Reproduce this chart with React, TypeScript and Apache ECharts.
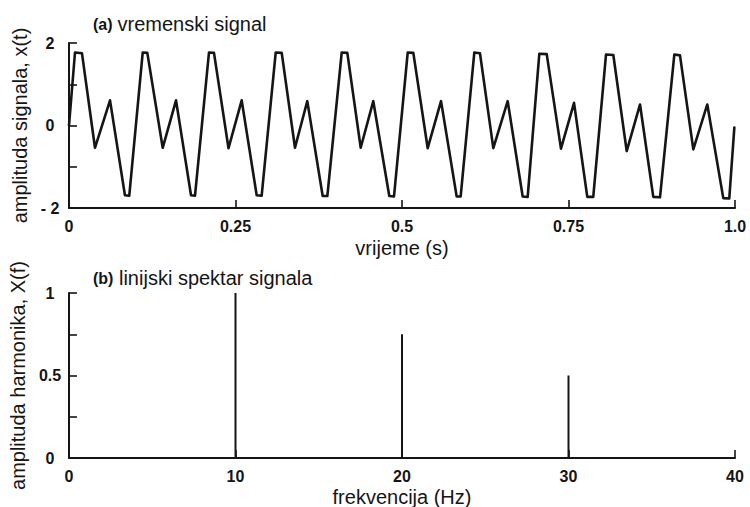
import React, { useEffect, useRef } from "react";
import * as echarts from "echarts";

// (a) time signal: vertices [time (s), amplitude]
const timeSec: number[] = [
  0,
  0.009, 0.0195, 0.039, 0.0616, 0.084, 0.0905,
  0.1107, 0.1176, 0.1407, 0.1607, 0.1832, 0.1892,
  0.2102, 0.2177, 0.2395, 0.2593, 0.2818, 0.2893,
  0.3104, 0.3194, 0.3393, 0.3578, 0.3809, 0.3879,
  0.4095, 0.4179, 0.438, 0.4569, 0.4809, 0.488,
  0.5086, 0.517, 0.5386, 0.5586, 0.5821, 0.5881,
  0.6086, 0.6171, 0.6371, 0.6587, 0.6812, 0.6887,
  0.7062, 0.7173, 0.7387, 0.7583, 0.7782, 0.7872,
  0.8063, 0.8173, 0.8374, 0.8574, 0.8773, 0.8874,
  0.9089, 0.9174, 0.9374, 0.9584, 0.9824, 0.9914,
  0.999,
];
const amplitude: number[] = [
  0,
  1.77, 1.75, -0.54, 0.61, -1.69, -1.7,
  1.77, 1.76, -0.54, 0.61, -1.69, -1.7,
  1.77, 1.76, -0.55, 0.61, -1.69, -1.7,
  1.77, 1.76, -0.54, 0.59, -1.71, -1.71,
  1.77, 1.76, -0.54, 0.59, -1.71, -1.72,
  1.77, 1.76, -0.55, 0.59, -1.72, -1.72,
  1.77, 1.75, -0.55, 0.59, -1.72, -1.73,
  1.74, 1.73, -0.56, 0.55, -1.73, -1.73,
  1.72, 1.71, -0.62, 0.51, -1.73, -1.74,
  1.72, 1.7, -0.58, 0.51, -1.76, -1.77,
  -0.05,
];

// (b) line spectrum
const harmonicFreqHz: number[] = [10, 20, 30];
const harmonicAmp: number[] = [1, 0.75, 0.5];

// tick labels
const topYLabels: Record<string, string> = { "2": "2", "0": "0", "-2": "- 2" };
const topXLabels: Record<string, string> = { "0": "0", "0.25": "0.25", "0.5": "0.5", "0.75": "0.75", "1": "1.0" };
const botYLabels: Record<string, string> = { "0": "0", "0.5": "0.5", "1": "1" };

const FONT = "'Liberation Sans', Arial, Helvetica, sans-serif";
const INK = "#151515";

export default function App() {
  const ref = useRef<HTMLDivElement>(null);
  useEffect(() => {
    if (!ref.current) return;
    const chart = echarts.init(ref.current, undefined, { renderer: "svg" });
    const axisLine = { show: true, onZero: false, lineStyle: { color: INK, width: 2 } };
    const axisTick = { show: true, inside: true, length: 8, lineStyle: { color: INK, width: 1.6 } };
    const tickLabel = { color: INK, fontFamily: FONT, fontSize: 16, fontWeight: "bold" as const };
    const nameStyle = { color: INK, fontFamily: FONT, fontSize: 20, fontWeight: "normal" as const };
    const titleRich = {
      a: { fontFamily: FONT, fontSize: 16, fontWeight: "bold", color: INK },
      t: { fontFamily: FONT, fontSize: 20, fontWeight: "normal", color: INK },
    };

    chart.setOption({
      animation: false,
      backgroundColor: "#ffffff",
      title: [
        {
          text: "{a|(a)} {t|vremenski signal}",
          left: 88,
          top: 9,
          textStyle: { fontWeight: "normal", rich: titleRich },
        },
        {
          text: "{a|(b)}{t| linijski spektar signala}",
          left: 88,
          top: 263,
          textStyle: { fontWeight: "normal", rich: titleRich },
        },
      ],
      grid: [
        { left: 69, right: 15, top: 43, height: 165, containLabel: false, outerBoundsMode: "none" },
        { left: 69, right: 15, top: 293, height: 165, containLabel: false, outerBoundsMode: "none" },
      ],
      xAxis: [
        {
          gridIndex: 0,
          type: "value",
          min: 0,
          max: 1,
          interval: 0.25,
          name: "vrijeme (s)",
          nameLocation: "middle",
          nameGap: 30,
          nameTextStyle: nameStyle,
          axisLine,
          axisTick,
          splitLine: { show: false },
          axisLabel: {
            ...tickLabel,
            margin: 10,
            formatter: (v: number) => topXLabels[String(v)] ?? "",
          },
        },
        {
          gridIndex: 1,
          type: "value",
          min: 0,
          max: 40,
          interval: 10,
          name: "frekvencija (Hz)",
          nameLocation: "middle",
          nameGap: 29,
          nameTextStyle: nameStyle,
          axisLine,
          axisTick,
          splitLine: { show: false },
          axisLabel: { ...tickLabel, margin: 10 },
        },
      ],
      yAxis: [
        {
          gridIndex: 0,
          type: "value",
          min: -2,
          max: 2,
          interval: 1,
          name: "amplituda signala, x(t)",
          nameLocation: "middle",
          nameGap: 33,
          nameTextStyle: nameStyle,
          axisLine,
          axisTick,
          splitLine: { show: false },
          axisLabel: {
            ...tickLabel,
            align: "center",
            margin: 19,
            formatter: (v: number) => topYLabels[String(v)] ?? "",
          },
        },
        {
          gridIndex: 1,
          type: "value",
          min: 0,
          max: 1,
          interval: 0.25,
          name: "amplituda harmonika, X(f)",
          nameLocation: "middle",
          nameGap: 30,
          nameTextStyle: nameStyle,
          axisLine,
          axisTick,
          splitLine: { show: false },
          axisLabel: {
            ...tickLabel,
            align: "center",
            margin: 19,
            formatter: (v: number) => botYLabels[String(v)] ?? "",
          },
        },
      ],
      series: [
        {
          type: "line",
          xAxisIndex: 0,
          yAxisIndex: 0,
          data: timeSec.map((t, i) => [t, amplitude[i]]),
          showSymbol: false,
          symbol: "none",
          lineStyle: { color: INK, width: 2.6, join: "round", cap: "round" },
          clip: false,
        },
        {
          type: "bar",
          xAxisIndex: 1,
          yAxisIndex: 1,
          data: harmonicFreqHz.map((f, i) => [f, harmonicAmp[i]]),
          barWidth: 2,
          itemStyle: { color: INK },
        },
      ],
    });
    return () => chart.dispose();
  }, []);
  return (
    <div
      ref={ref}
      style={{ position: "fixed", left: 0, top: 0, width: 750, height: 507 }}
    />
  );
}
